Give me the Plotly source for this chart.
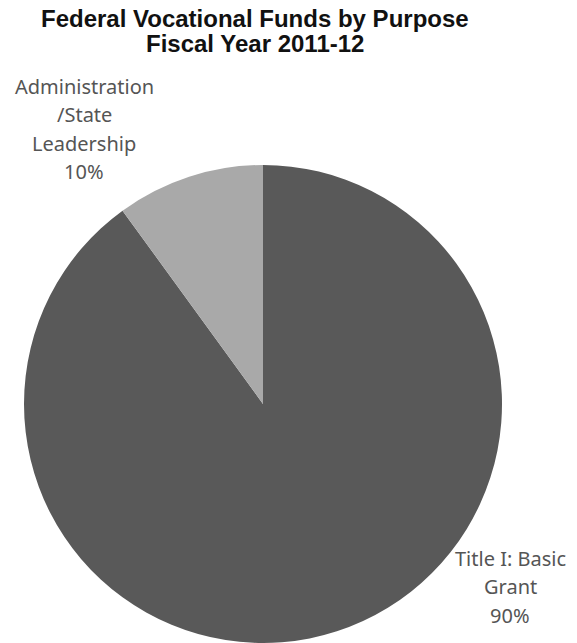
import plotly.graph_objects as go

title_lines = ["Federal Vocational Funds by Purpose", "Fiscal Year 2011-12"]
labels = ["Title I: Basic<br>Grant", "Administration<br>/State<br>Leadership"]
values = [90, 10]
colors = ["#595959", "#a9a9a9"]

W, H = 577, 643
cx, top, r = 263, 165, 240

fig = go.Figure(go.Pie(
    labels=labels, values=values, sort=False, direction="clockwise", rotation=0,
    marker=dict(colors=colors, line=dict(width=0)),
    textinfo="none", hoverinfo="label+percent", showlegend=False,
    domain=dict(x=[(cx - r) / W, (cx + r) / W], y=[0, 1 - top / H]),
))

total = sum(values)
label_pos = [(510, 558), (84, 86)]
anns = []
for lab, v, (lx, ly) in zip(labels, values, label_pos):
    lines = lab.split("<br>") + [f"{round(100 * v / total)}%"]
    for i, t in enumerate(lines):
        anns.append(dict(x=lx / W, y=1 - (ly + i * 28.5) / H, xref="paper", yref="paper",
                         text=t, showarrow=False, xanchor="center", yanchor="middle",
                         font=dict(family="Noto Sans", size=20, color="#555555")))
for i, t in enumerate(title_lines):
    anns.append(dict(x=255 / W, y=1 - (19 + i * 24) / H, xref="paper", yref="paper",
                     text=f"<b>{t}</b>", showarrow=False, xanchor="center", yanchor="middle",
                     font=dict(family="Liberation Sans", size=24, color="#111111")))

fig.update_layout(width=W, height=H, margin=dict(l=0, r=0, t=0, b=0),
                  paper_bgcolor="white", plot_bgcolor="white", annotations=anns)
fig.write_html("out.html")
